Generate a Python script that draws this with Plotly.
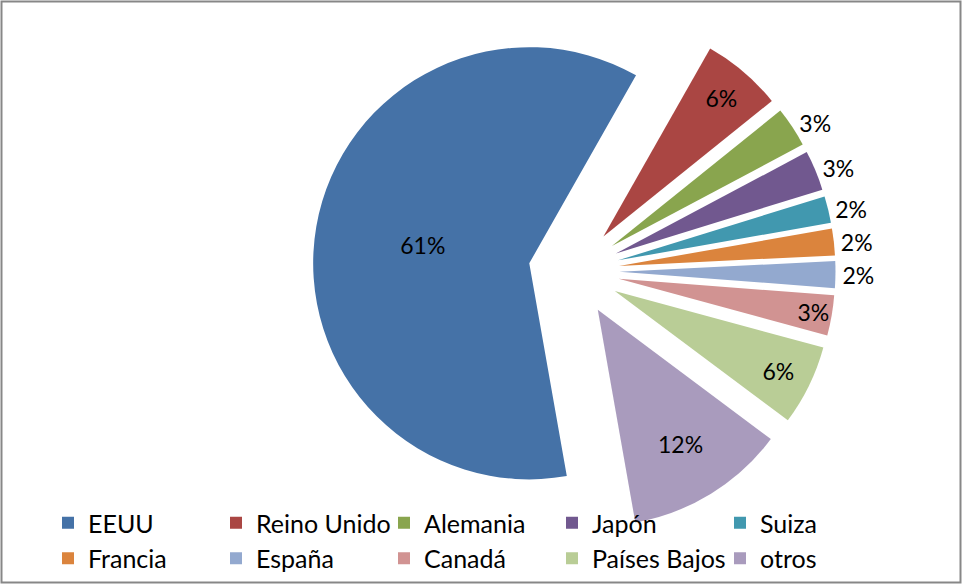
import plotly.graph_objects as go

labels = ["EEUU", "Reino Unido", "Alemania", "Japón", "Suiza",
          "Francia", "España", "Canadá", "Países Bajos", "otros"]
values = [61, 6, 3, 3, 2, 2, 2, 3, 6, 12]
colors = ["#4572A7", "#AA4643", "#89A54E", "#71588F", "#4198AF",
          "#DB843D", "#93A9CF", "#D19392", "#B9CD96", "#A99BBD"]
text_positions = ["inside", "inside", "outside", "outside", "outside",
                  "outside", "outside", "inside", "inside", "inside"]

W, H = 963, 585
cx, cy, half = 574, 271, 261.5

fig = go.Figure(go.Pie(
    labels=labels,
    values=values,
    sort=False,
    direction="clockwise",
    rotation=170,
    pull=[0.21] * len(values),
    marker=dict(colors=colors, line=dict(width=0)),
    texttemplate="%{percent:.0%}",
    textposition=text_positions,
    insidetextorientation="horizontal",
    textfont=dict(family="Lato", size=23, color="black"),
    domain=dict(x=[(cx - half) / W, (cx + half) / W],
                y=[1 - (cy + half) / H, 1 - (cy - half) / H]),
    hoverinfo="label+percent",
))

fig.update_layout(
    width=W, height=H,
    margin=dict(l=0, r=0, t=0, b=0, autoexpand=False),
    paper_bgcolor="white",
    uniformtext=dict(minsize=23, mode="show"),
    font=dict(family="Lato", size=23, color="black"),
    legend=dict(
        orientation="h",
        x=48 / W, xanchor="left",
        y=1 - 500 / H, yanchor="top",
        entrywidth=123, entrywidthmode="pixels",
        itemwidth=30,
        font=dict(family="Lato", size=25, color="black"),
        bgcolor="rgba(0,0,0,0)",
        traceorder="normal",
    ),
    shapes=[dict(type="rect", xref="paper", yref="paper",
                 x0=1.5 / W, x1=1 - 2.5 / W, y0=2.5 / H, y1=1 - 1.5 / H,
                 line=dict(color="#878787", width=2))],
)

fig.write_html(
    "out.html",
    config={"displayModeBar": False},
    post_script="document.body.style.margin='0';"
                "document.body.style.overflow='hidden';",
)
